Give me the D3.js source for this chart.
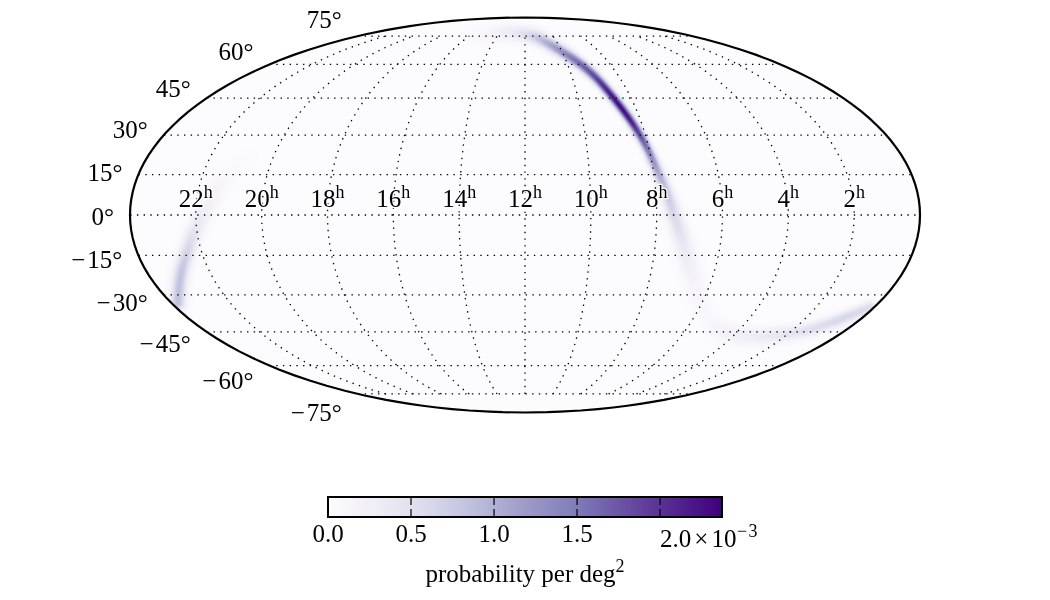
<!DOCTYPE html>
<html>
<head>
<meta charset="utf-8">
<script src="https://cdn.jsdelivr.net/npm/d3@7"></script>
<style>
  html, body { margin: 0; padding: 0; background: #fff; }
  #wrap { position: relative; width: 1050px; height: 600px; overflow: hidden; }
  canvas, svg { position: absolute; left: 0; top: 0; }
  text { font-family: "Liberation Serif", "Times New Roman", serif; fill: #000; }
</style>
</head>
<body>
<div id="wrap">
  <canvas id="sky" width="1050" height="600"></canvas>
  <svg id="chart" width="1050" height="600"></svg>
</div>
<script>
// Credible-region ridge on the sky: right ascension (hours), declination (deg),
// density (10^-3 per deg^2) and transverse spread (deg).
const northRa   = [15.86, 14.02, 12.16, 10.97, 9.96, 9.38, 8.96, 8.67, 8.41, 8.23, 8.05, 7.88, 7.66, 7.5, 7.27, 7.06, 6.78, 5.77, 5.07, 3.81, 2.8, 1.7, 1.12, 0.57, 0.15];
const northDec  = [74.4, 77.4, 76.8, 73.8, 66, 60.6, 53.7, 45.5, 38, 32, 25.4, 16.7, 8.5, 0.74, -6.65, -13, -20.5, -37.2, -42.9, -47.1, -47.1, -45.5, -42.9, -38.8, -34.8];
const northProb = [0.06, 0.2, 0.45, 0.9, 1.35, 1.65, 1.9, 2.3, 2.3, 2.0, 1.55, 1.1, 0.8, 0.62, 0.48, 0.36, 0.2, 0.06, 0.12, 0.25, 0.36, 0.46, 0.55, 0.66, 0.55];
const northSpread = [3.0, 2.8, 2.5, 2.2, 1.9, 1.7, 1.55, 1.45, 1.45, 1.45, 1.55, 1.8, 2.1, 2.5, 2.8, 3.0, 3.2, 3.6, 3.6, 3.0, 2.6, 2.3, 2.1, 2.0, 1.9];

const westRa   = [23.78, 22.96, 22.46, 22.13, 21.72, 21.45, 21.17, 20.83];
const westDec  = [-33.2, -21.6, -14.1, -6.65, 1.85, 10.4, 15.6, 21.6];
const westProb = [0.85, 0.85, 0.68, 0.46, 0.27, 0.13, 0.08, 0.03];
const westSpread = [2.4, 2.4, 2.5, 2.7, 3.0, 3.3, 3.5, 3.5];

// Graticule positions and labels.
const raHours = [22, 20, 18, 16, 14, 12, 10, 8, 6, 4, 2];
const decTicks = [75, 60, 45, 30, 15, 0, -15, -30, -45, -60, -75];

// Colour bar contents.
const barTicks = [0, 0.5, 1, 1.5, 2];
const barMax = 2.373;
const barLabels = ["0.0", "0.5", "1.0", "1.5"];
const purples = ["#fcfbfd", "#efedf5", "#dadaeb", "#bcbddc", "#9e9ac8", "#807dba", "#6a51a3", "#54278f", "#3f007d"];

// Mollweide projection, with the auxiliary angle solved by Newton iteration.
function mollweideRaw(lambda, phi) {
  const target = Math.PI * Math.sin(phi);
  let theta = phi;
  for (let i = 0; i < 60; i++) {
    const step = (2 * theta + Math.sin(2 * theta) - target) / (2 + 2 * Math.cos(2 * theta));
    theta -= step;
    if (!isFinite(theta) || Math.abs(step) < 1e-9) break;
  }
  if (!isFinite(theta)) theta = Math.sign(phi) * Math.PI / 2;
  return [2 * Math.SQRT2 / Math.PI * lambda * Math.cos(theta), Math.SQRT2 * Math.sin(theta)];
}

const radiusX = 395;
const projection = d3.geoProjection(mollweideRaw)
  .scale(radiusX / (2 * Math.SQRT2))
  .translate([525, 215])
  .precision(0.1);

const lonOf = d3.scaleLinear().domain([12, 0]).range([0, 180]);
const sky = (ra, dec) => projection([lonOf(ra) > 180 ? lonOf(ra) - 360 : lonOf(ra), dec]);
const pxPerDeg = projection.scale() * 2 * Math.SQRT2 / Math.PI * Math.PI / 180;

const colour = d3.scaleLinear()
  .domain(purples.map((_, i) => i / (purples.length - 1) * barMax))
  .range(purples)
  .clamp(true);

// Density raster: each ridge is sampled finely and spread out with a Gaussian profile.
const W = 1050, H = 600;
const field = new Float32Array(W * H);

function splatRidge(ra, dec, prob, spread, samples) {
  const pts = ra.map((r, i) => sky(r, dec[i]));
  const fx = d3.interpolateBasis(pts.map(p => p[0]));
  const fy = d3.interpolateBasis(pts.map(p => p[1]));
  const fv = d3.interpolateBasis(prob);
  const fs = d3.interpolateBasis(spread);
  for (let k = 0; k <= samples; k++) {
    const t = k / samples;
    const cx = fx(t), cy = fy(t), v = Math.max(0, fv(t)), sig = fs(t) * pxPerDeg;
    const reach = Math.ceil(sig * 3.5);
    for (let y = Math.max(0, Math.floor(cy) - reach); y <= Math.min(H - 1, Math.ceil(cy) + reach); y++) {
      for (let x = Math.max(0, Math.floor(cx) - reach); x <= Math.min(W - 1, Math.ceil(cx) + reach); x++) {
        const d2 = (x + 0.5 - cx) ** 2 + (y + 0.5 - cy) ** 2;
        const val = v * Math.exp(-d2 / (2 * sig * sig));
        const idx = y * W + x;
        if (val > field[idx]) field[idx] = val;
      }
    }
  }
}
splatRidge(northRa, northDec, northProb, northSpread, 1600);
splatRidge(westRa, westDec, westProb, westSpread, 400);

const off = document.createElement("canvas");
off.width = W; off.height = H;
const offCtx = off.getContext("2d");
const image = offCtx.createImageData(W, H);
for (let i = 0; i < field.length; i++) {
  const c = d3.rgb(colour(field[i]));
  image.data[i * 4] = c.r;
  image.data[i * 4 + 1] = c.g;
  image.data[i * 4 + 2] = c.b;
  image.data[i * 4 + 3] = 255;
}
offCtx.putImageData(image, 0, 0);

const ctx = document.getElementById("sky").getContext("2d");
ctx.save();
ctx.beginPath();
d3.geoPath(projection, ctx)({ type: "Sphere" });
ctx.clip();
ctx.drawImage(off, 0, 0);
ctx.restore();

// Vector overlay: graticule, outline, labels and colour bar.
const svg = d3.select("#chart");
const path = d3.geoPath(projection);
const dots = "1.4 5.3";

const parallels = decTicks.map(dec => ({
  type: "LineString",
  coordinates: d3.range(-179.9, 180, 1).concat([179.9]).map(lon => [lon, dec])
}));
const meridians = raHours.map(h => ({
  type: "LineString",
  coordinates: d3.range(-75, 75.5, 1).map(lat => [lonOf(h) > 180 ? lonOf(h) - 360 : lonOf(h), lat])
}));

svg.append("g").selectAll("path")
  .data(parallels.concat(meridians))
  .join("path")
  .attr("d", path)
  .attr("fill", "none")
  .attr("stroke", "#000")
  .attr("stroke-width", 1.3)
  .attr("stroke-dasharray", dots);

svg.append("path")
  .datum({ type: "Sphere" })
  .attr("d", path)
  .attr("fill", "none")
  .attr("stroke", "#000")
  .attr("stroke-width", 2.2);

// Right ascension labels sit just above the equator.
const raLabel = svg.append("g").selectAll("text")
  .data(raHours)
  .join("text")
  .attr("x", h => sky(h, 0)[0])
  .attr("y", 207)
  .attr("text-anchor", "middle")
  .attr("font-size", 25)
  .attr("stroke", "#fff")
  .attr("stroke-width", 2.5)
  .attr("stroke-linejoin", "round")
  .attr("paint-order", "stroke");
raLabel.append("tspan").text(h => h);
raLabel.append("tspan").attr("dy", -9).attr("font-size", 18).text("h");

// Declination labels hug the left edge of the outline.
const decShift = d3.scaleLinear().domain([-75, 75]).range([19, -16]);
svg.append("g").selectAll("text")
  .data(decTicks)
  .join("text")
  .attr("x", d => projection([-179.99, d])[0] - 16)
  .attr("y", d => projection([-179.99, d])[1] + decShift(d) + 8)
  .attr("text-anchor", "end")
  .attr("font-size", 25)
  .text(d => (d < 0 ? "\u2212\u200a" + (-d) : d) + "\u00b0");

// Colour bar.
const barX = d3.scaleLinear().domain([0, barMax]).range([328, 722]);
const barTop = 497, barBottom = 517;
const bar = svg.append("g");
bar.selectAll("rect.step")
  .data(d3.range(0, 394).map(i => i / 394 * barMax))
  .join("rect")
  .attr("class", "step")
  .attr("x", d => barX(d))
  .attr("y", barTop)
  .attr("width", 1.4)
  .attr("height", barBottom - barTop)
  .attr("fill", d => colour(d));
bar.append("rect")
  .attr("x", barX(0)).attr("y", barTop)
  .attr("width", barX(barMax) - barX(0)).attr("height", barBottom - barTop)
  .attr("fill", "none").attr("stroke", "#000").attr("stroke-width", 2);
bar.selectAll("line.tickTop")
  .data(barTicks.slice(1))
  .join("line")
  .attr("class", "tickTop")
  .attr("x1", d => barX(d)).attr("x2", d => barX(d))
  .attr("y1", barTop).attr("y2", barTop + 8)
  .attr("stroke", "#000").attr("stroke-width", 1.2);
bar.selectAll("line.tickBottom")
  .data(barTicks.slice(1))
  .join("line")
  .attr("class", "tickBottom")
  .attr("x1", d => barX(d)).attr("x2", d => barX(d))
  .attr("y1", barBottom - 8).attr("y2", barBottom)
  .attr("stroke", "#000").attr("stroke-width", 1.2);
bar.selectAll("text.tickLabel")
  .data(barLabels)
  .join("text")
  .attr("class", "tickLabel")
  .attr("x", (d, i) => barX(barTicks[i]))
  .attr("y", 542)
  .attr("text-anchor", "middle")
  .attr("font-size", 25)
  .text(d => d);

const offset = bar.append("text")
  .attr("x", barX(2))
  .attr("y", 547)
  .attr("font-size", 25);
offset.append("tspan").text("2.0");
offset.append("tspan").attr("dx", 3).text("\u00d7");
offset.append("tspan").attr("dx", 3).text("10");
offset.append("tspan").attr("dy", -10).attr("font-size", 18).attr("dx", 0.5).text("\u2212\u200a3");

const axisTitle = bar.append("text")
  .attr("x", 525)
  .attr("y", 582)
  .attr("text-anchor", "middle")
  .attr("font-size", 25);
axisTitle.append("tspan").text("probability per deg");
axisTitle.append("tspan").attr("dy", -10).attr("font-size", 18).text("2");
</script>
</body>
</html>
